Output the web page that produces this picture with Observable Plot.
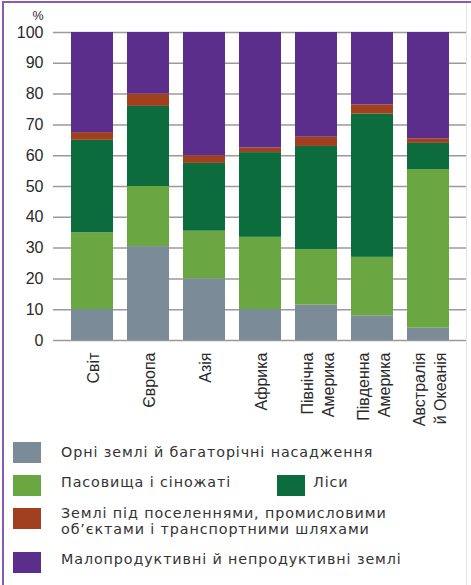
<!DOCTYPE html>
<html>
<head>
<meta charset="utf-8">
<script src="https://cdn.jsdelivr.net/npm/d3@7"></script>
<script src="https://cdn.jsdelivr.net/npm/@observablehq/plot@0.6"></script>
<style>
  html, body { margin: 0; padding: 0; background: #fff; }
  #wrap { position: relative; width: 471px; height: 585px; overflow: hidden; font-family: "DejaVu Sans", sans-serif; }
  #chart { position: absolute; left: 0; top: 0; }
  .bt { position: absolute; left: 2px; top: 1px; width: 469px; height: 2px; background: #8a5bb5; }
  .bl { position: absolute; left: 2px; top: 1px; width: 2px; height: 584px; background: #8a5bb5; }
  .br { position: absolute; left: 466px; top: 3px; width: 1px; height: 582px; background: #e4e4e4; }
  .sw { position: absolute; width: 28px; height: 21px; }
  .lt { position: absolute; font-size: 14.3px; letter-spacing: 0.9px; color: #333; line-height: 16.8px; white-space: nowrap; }
</style>
</head>
<body>
<div id="wrap">
  <div id="chart"></div>
  <div class="bt"></div><div class="bl"></div><div class="br"></div>
  <div id="legend"></div>
</div>
<script>
const categories = ["Світ", "Європа", "Азія", "Африка", "Північна\nАмерика", "Південна\nАмерика", "Австралія\nй Океанія"];
const series = [
  "Орні землі й багаторічні насадження",
  "Пасовища і сіножаті",
  "Ліси",
  "Землі під поселеннями, промисловими\nоб’єктами і транспортними шляхами",
  "Малопродуктивні й непродуктивні землі"
];
// values (%) per category, in series order
const arable   = [10,   30.5, 20,   10,   11.5, 8,    4];
const pasture  = [25,   19.5, 15.5, 23.5, 18,   19,   51.5];
const forest   = [30,   26,   22,   27.5, 33.5, 46.5, 8.5];
const settled  = [2.5,  4,    2.5,  1.5,  3,    3,    1.5];
const barren   = [32.5, 20,   40,   37.5, 34,   23.5, 34.5];
const yTicks = [0, 10, 20, 30, 40, 50, 60, 70, 80, 90, 100];
const colors = ["#7b8b98", "#6aa641", "#0d6c3e", "#a1401e", "#5b2e8c"];

const seriesValues = [arable, pasture, forest, settled, barren];
const data = [];
categories.forEach((c, i) => {
  series.forEach((s, j) => data.push({category: c, series: s, value: seriesValues[j][i]}));
});

const chart = Plot.plot({
  width: 471,
  height: 436,
  marginLeft: 53,
  marginRight: 5,
  marginTop: 32,
  marginBottom: 96,
  style: {fontFamily: "Liberation Sans, Arial, sans-serif", fontSize: "16px", color: "#2a2a2a", background: "transparent", overflow: "visible"},
  x: {domain: categories, padding: 0.25, label: null},
  y: {domain: [0, 100], label: null},
  color: {domain: series, range: colors},
  marks: [
    Plot.ruleY(yTicks, {stroke: "#9a9a9a", strokeWidth: 1.5}),
    Plot.barY(data, {x: "category", y: "value", fill: "series"}),
    Plot.axisY({ticks: yTicks, tickSize: 0, tickPadding: 10, label: null, fontSize: 16}),
    Plot.axisX({tickSize: 0, tickRotate: -90, tickPadding: 12, label: null, fontSize: 16, lineHeight: 1.35}),
    Plot.text(["%"], {frameAnchor: "top-left", dx: -21, dy: -21, fontSize: 12.5})
  ]
});
document.getElementById("chart").appendChild(chart);

// legend
const legend = document.getElementById("legend");
const items = [
  {i: 0, sx: 13, sy: 442, tx: 61, ty: 443.5},
  {i: 1, sx: 13, sy: 475, tx: 61, ty: 473.5},
  {i: 2, sx: 277, sy: 475, tx: 313, ty: 473.5},
  {i: 3, sx: 13, sy: 508, tx: 61, ty: 504.5},
  {i: 4, sx: 13, sy: 552, tx: 61, ty: 550.5}
];
items.forEach(it => {
  const sw = document.createElement("div");
  sw.className = "sw";
  sw.style.left = it.sx + "px"; sw.style.top = it.sy + "px";
  sw.style.background = colors[it.i];
  legend.appendChild(sw);
  const t = document.createElement("div");
  t.className = "lt";
  t.style.left = it.tx + "px"; t.style.top = it.ty + "px";
  t.innerHTML = series[it.i].split("\n").join("<br>");
  legend.appendChild(t);
});
</script>
</body>
</html>
